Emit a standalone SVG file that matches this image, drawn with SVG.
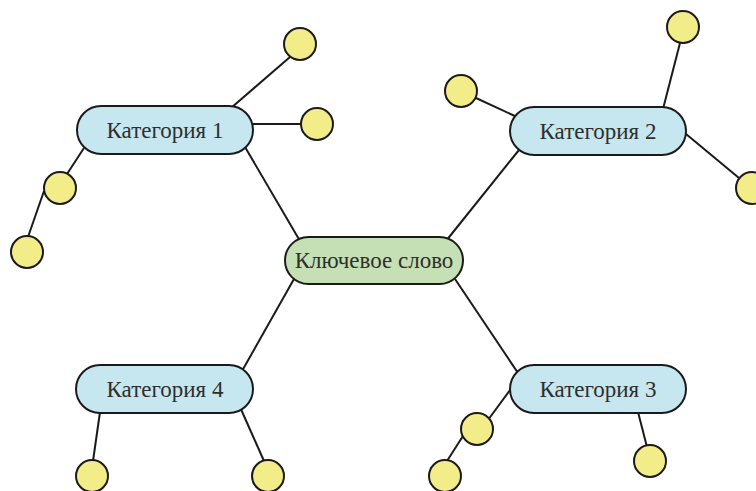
<svg xmlns="http://www.w3.org/2000/svg" width="756" height="491" viewBox="0 0 756 491">
  <style>
    .link { stroke: #1a1a1a; stroke-width: 2; fill: none; }
    .pill { stroke: #1a1a1a; stroke-width: 2; }
    .core { fill: #c5e0b4; }
    .cat { fill: #c6e7ef; }
    .leaf { fill: #f2ed88; stroke: #1a1a1a; stroke-width: 2; }
    .label { font-family: "Liberation Serif", "Times New Roman", serif; font-size: 23px; fill: #2e2e2e; text-anchor: middle; }
  </style>
  <rect width="756" height="491" fill="#ffffff"/>

  <g id="connectors">
    <!-- core to categories -->
    <line class="link" x1="300" y1="241" x2="245" y2="147"/>
    <line class="link" x1="446" y1="241" x2="519" y2="150"/>
    <line class="link" x1="294" y1="279" x2="242" y2="371"/>
    <line class="link" x1="455" y1="279" x2="518" y2="373"/>
    <!-- category 1 leaves -->
    <line class="link" x1="231" y1="108" x2="290" y2="57"/>
    <line class="link" x1="250" y1="124" x2="301" y2="124"/>
    <line class="link" x1="84" y1="148" x2="67" y2="174"/>
    <line class="link" x1="44" y1="191" x2="28" y2="237"/>
    <!-- category 2 leaves -->
    <line class="link" x1="663" y1="109" x2="680" y2="43"/>
    <line class="link" x1="476" y1="98" x2="517" y2="117"/>
    <line class="link" x1="686" y1="134" x2="739" y2="178"/>
    <!-- category 3 leaves -->
    <line class="link" x1="510" y1="390" x2="488" y2="420"/>
    <line class="link" x1="463" y1="436" x2="447" y2="461"/>
    <line class="link" x1="638" y1="412" x2="647" y2="447"/>
    <!-- category 4 leaves -->
    <line class="link" x1="100" y1="412" x2="93" y2="461"/>
    <line class="link" x1="240" y1="407" x2="264" y2="461"/>
  </g>

  <g id="core">
    <rect class="pill core" x="285" y="237" width="178" height="47" rx="23.5"/>
    <text class="label" x="374" y="268">Ключевое слово</text>
  </g>

  <g id="category-1">
    <rect class="pill cat" x="77" y="106" width="176" height="48" rx="24"/>
    <text class="label" x="165" y="138">Категория 1</text>
  </g>
  <g id="category-2">
    <rect class="pill cat" x="510" y="107" width="176" height="48" rx="24"/>
    <text class="label" x="598" y="139">Категория 2</text>
  </g>
  <g id="category-3">
    <rect class="pill cat" x="510" y="365" width="176" height="48" rx="24"/>
    <text class="label" x="598" y="397">Категория 3</text>
  </g>
  <g id="category-4">
    <rect class="pill cat" x="76" y="365" width="177" height="48" rx="24"/>
    <text class="label" x="165" y="397">Категория 4</text>
  </g>

  <g id="leaves-1">
    <circle class="leaf" cx="300" cy="44" r="16"/>
    <circle class="leaf" cx="317" cy="124" r="16"/>
    <circle class="leaf" cx="60" cy="188" r="16"/>
    <circle class="leaf" cx="27" cy="252" r="16"/>
  </g>
  <g id="leaves-2">
    <circle class="leaf" cx="683" cy="27" r="16"/>
    <circle class="leaf" cx="461" cy="91" r="16"/>
    <circle class="leaf" cx="752" cy="188" r="16"/>
  </g>
  <g id="leaves-3">
    <circle class="leaf" cx="477" cy="429" r="16"/>
    <circle class="leaf" cx="445" cy="476" r="16"/>
    <circle class="leaf" cx="650" cy="461" r="16"/>
  </g>
  <g id="leaves-4">
    <circle class="leaf" cx="92" cy="476" r="16"/>
    <circle class="leaf" cx="268" cy="476" r="16"/>
  </g>
</svg>
